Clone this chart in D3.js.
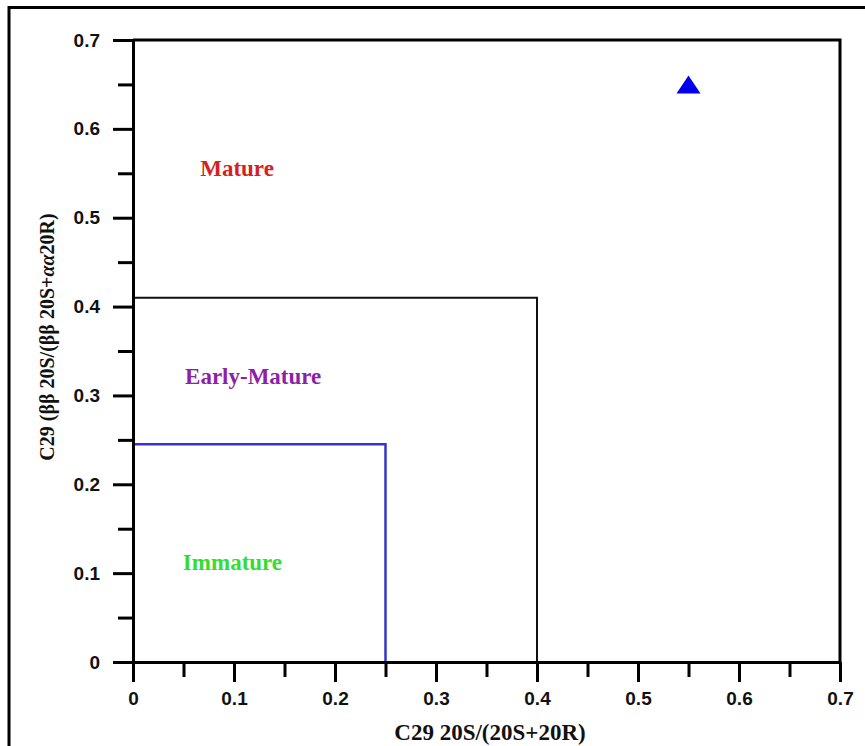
<!DOCTYPE html>
<html>
<head>
<meta charset="utf-8">
<script src="https://cdn.jsdelivr.net/npm/d3@7"></script>
<style>
  html, body { margin: 0; padding: 0; background: #fff; }
  svg { display: block; }
</style>
</head>
<body>
<svg id="chart" width="865" height="746"></svg>
<script>
// ---- data ----
const xTicks = [0, 0.1, 0.2, 0.3, 0.4, 0.5, 0.6, 0.7];
const xTickLabels = ["0", "0.1", "0.2", "0.3", "0.4", "0.5", "0.6", "0.7"];
const yTicks = [0, 0.1, 0.2, 0.3, 0.4, 0.5, 0.6, 0.7];
const yTickLabels = ["0", "0.1", "0.2", "0.3", "0.4", "0.5", "0.6", "0.7"];
const minorTicks = [0.05, 0.15, 0.25, 0.35, 0.45, 0.55, 0.65];
const matureBoundary = [[0, 0.41], [0.4, 0.41], [0.4, 0]];
const immatureBoundary = [[0, 0.245], [0.25, 0.245], [0.25, 0]];
const sampleX = [0.55];
const sampleY = [0.65];
const zoneNames = ["Mature", "Early-Mature", "Immature"];
const zoneX = [0.103, 0.119, 0.0985];
const zoneY = [0.547, 0.313, 0.1035];
const zoneColors = ["#d42222", "#8e1fa8", "#33dd33"];

// ---- layout ----
const svg = d3.select("#chart");
const x = d3.scaleLinear().domain([0, 0.7]).range([133, 840]);
const y = d3.scaleLinear().domain([0, 0.7]).range([662, 40]);

// outer frame
svg.append("path")
  .attr("d", "M9,760 L9,7.5 L880,7.5")
  .attr("fill", "none").attr("stroke", "#000").attr("stroke-width", 3);

// plot frame (top and right)
svg.append("path")
  .attr("d", `M${x(0)},${y(0.7)} L${x(0.7)},${y(0.7)} L${x(0.7)},${y(0)}`)
  .attr("fill", "none").attr("stroke", "#000").attr("stroke-width", 3);

// boundaries
const line = d3.line().x(d => x(d[0])).y(d => y(d[1]));
svg.append("path").attr("d", line(matureBoundary))
  .attr("fill", "none").attr("stroke", "#111").attr("stroke-width", 2);
svg.append("path").attr("d", line(immatureBoundary))
  .attr("fill", "none").attr("stroke", "#3535c8").attr("stroke-width", 2.5);

// axes
const tickFont = "Liberation Sans, Arial, sans-serif";
const xAxis = d3.axisBottom(x).tickValues(xTicks)
  .tickFormat((d, i) => xTickLabels[i]).tickSize(20).tickSizeOuter(0).tickPadding(10);
const gx = svg.append("g").attr("transform", `translate(0,${y(0)})`).call(xAxis);
const xMinor = d3.axisBottom(x).tickValues(minorTicks).tickFormat("").tickSize(15).tickSizeOuter(0);
svg.append("g").attr("transform", `translate(0,${y(0)})`).call(xMinor)
  .call(g => g.select(".domain").remove());

const yAxis = d3.axisLeft(y).tickValues(yTicks)
  .tickFormat((d, i) => yTickLabels[i]).tickSize(20).tickSizeOuter(0).tickPadding(13);
const gy = svg.append("g").attr("transform", `translate(${x(0)},0)`).call(yAxis);
const yMinor = d3.axisLeft(y).tickValues(minorTicks).tickFormat("").tickSize(15).tickSizeOuter(0);
svg.append("g").attr("transform", `translate(${x(0)},0)`).call(yMinor)
  .call(g => g.select(".domain").remove());

svg.selectAll(".domain, .tick line").attr("stroke", "#000").attr("stroke-width", 3);
[gx, gy].forEach(g => g.selectAll("text")
  .attr("fill", "#111").attr("font-family", tickFont)
  .attr("font-weight", "bold").attr("font-size", 19));

// zone labels
svg.append("g").selectAll("text").data(zoneNames).join("text")
  .attr("x", (d, i) => x(zoneX[i]))
  .attr("y", (d, i) => y(zoneY[i]))
  .attr("text-anchor", "middle")
  .attr("font-family", "Liberation Serif, Times New Roman, serif")
  .attr("font-weight", "bold").attr("font-size", 23)
  .attr("fill", (d, i) => zoneColors[i])
  .text(d => d);

// sample point (triangle)
svg.append("g").selectAll("path").data(sampleX).join("path")
  .attr("transform", (d, i) => `translate(${x(d)},${y(sampleY[i])})`)
  .attr("d", "M0,-9 L12,9 L-12,9 Z")
  .attr("fill", "#0000ee");

// axis titles
svg.append("text")
  .attr("x", 490).attr("y", 740)
  .attr("text-anchor", "middle")
  .attr("font-family", "Liberation Serif, Times New Roman, serif")
  .attr("font-weight", "bold").attr("font-size", 23).attr("fill", "#111")
  .text("C29 20S/(20S+20R)");

const yt = svg.append("text")
  .attr("transform", "translate(54,337) rotate(-90)")
  .attr("text-anchor", "middle")
  .attr("font-family", "Liberation Serif, Times New Roman, serif")
  .attr("font-weight", "bold").attr("font-size", 20).attr("fill", "#111");
yt.append("tspan").text("C29 (ββ 20S/(ββ 20S+");
yt.append("tspan").attr("font-style", "italic").text("αα");
yt.append("tspan").text("20R)");
</script>
</body>
</html>
